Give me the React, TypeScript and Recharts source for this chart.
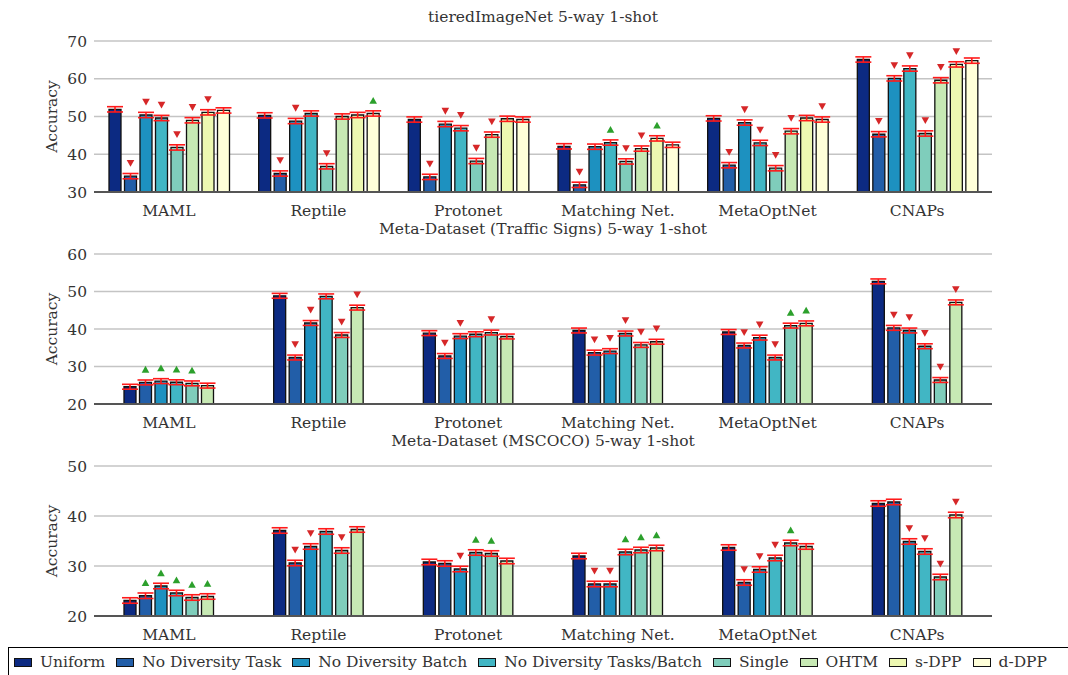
import React from 'react';
import { BarChart, Bar, XAxis, YAxis, CartesianGrid, ErrorBar, LabelList } from 'recharts';

const categories = ['MAML', 'Reptile', 'Protonet', 'Matching Net.', 'MetaOptNet', 'CNAPs'];
const seriesNames = ['Uniform', 'No Diversity Task', 'No Diversity Batch', 'No Diversity Tasks/Batch', 'Single', 'OHTM', 's-DPP', 'd-DPP'];
const seriesColors = ['#0c2a82', '#225ea8', '#1d91c0', '#41b6c4', '#7fcdbb', '#c7e9b4', '#edf8b1', '#ffffd9'];

// Panel 1: tieredImageNet 5-way 1-shot
const tiered_uniform = [51.9, 50.3, 49.2, 42.1, 49.5, 65.1];
const tiered_noDivTask = [34.2, 34.9, 34.0, 31.9, 37.1, 45.3];
const tiered_noDivBatch = [50.4, 48.8, 48.0, 42.0, 48.4, 60.1];
const tiered_noDivTaskBatch = [49.6, 50.8, 46.9, 43.1, 43.0, 62.7];
const tiered_single = [41.8, 36.8, 38.2, 38.1, 36.3, 45.5];
const tiered_ohtm = [49.0, 50.0, 45.2, 41.5, 46.1, 59.6];
const tiered_sdpp = [51.1, 50.4, 49.4, 44.2, 49.6, 63.8];
const tiered_ddpp = [51.6, 50.8, 49.2, 42.5, 49.2, 64.8];
const tiered_markers = [
  ['', '', '', '', '', ''],
  ['d', 'd', 'd', 'd', 'd', 'd'],
  ['d', 'd', 'd', '', 'd', 'd'],
  ['d', '', 'd', 'u', 'd', 'd'],
  ['d', 'd', 'd', 'd', 'd', 'd'],
  ['d', '', 'd', 'd', 'd', 'd'],
  ['d', '', '', 'u', '', 'd'],
  ['', 'u', '', '', 'd', ''],
];
const tiered_err = 0.7;

// Panel 2: Meta-Dataset (Traffic Signs)
const traffic_uniform = [24.6, 48.85, 38.9, 39.6, 39.2, 52.7];
const traffic_noDivTask = [25.75, 32.4, 32.8, 33.7, 35.6, 40.3];
const traffic_noDivBatch = [26.1, 41.6, 38.1, 34.1, 37.7, 39.6];
const traffic_noDivTaskBatch = [25.8, 48.7, 38.6, 38.8, 32.4, 35.4];
const traffic_single = [25.5, 38.4, 39.05, 35.75, 40.9, 26.4];
const traffic_ohtm = [24.9, 45.7, 38.0, 36.6, 41.5, 47.1];
const traffic_markers = [
  ['', '', '', '', '', ''],
  ['u', 'd', 'd', 'd', 'd', 'd'],
  ['u', 'd', 'd', 'd', 'd', 'd'],
  ['u', '', '', 'd', 'd', 'd'],
  ['u', 'd', 'd', 'd', 'u', 'd'],
  ['', 'd', '', 'd', 'u', 'd'],
];
const traffic_err = 0.65;

// Panel 3: Meta-Dataset (MSCOCO)
const coco_uniform = [23.1, 37.1, 30.8, 32.0, 33.7, 42.5];
const coco_noDivTask = [24.05, 30.6, 30.5, 26.4, 26.7, 42.8];
const coco_noDivBatch = [26.0, 33.9, 29.4, 26.4, 29.3, 34.9];
const coco_noDivTaskBatch = [24.6, 36.9, 32.7, 32.8, 31.6, 32.9];
const coco_single = [23.7, 33.1, 32.5, 33.2, 34.6, 27.8];
const coco_ohtm = [23.9, 37.3, 31.0, 33.6, 33.9, 40.2];
const coco_markers = [
  ['', '', '', '', '', ''],
  ['u', 'd', '', 'd', 'd', ''],
  ['u', 'd', 'd', 'd', 'd', 'd'],
  ['u', '', 'u', 'u', 'd', 'd'],
  ['u', 'd', 'u', 'u', 'u', 'd'],
  ['u', '', '', 'u', '', 'd'],
];
const coco_err = 0.55;

const tieredTicks = [30, 40, 50, 60, 70];
const trafficTicks = [20, 30, 40, 50, 60];
const cocoTicks = [20, 30, 40, 50];

const FONT = '"DejaVu Serif", serif';

function buildRows(values: number[][], markers: string[][], err: number) {
  return categories.map((c, i) => {
    const row: any = { name: c };
    values.forEach((v, s) => {
      row['s' + s] = v[i];
      row['s' + s + '_e'] = err;
      row['s' + s + '_m'] = markers[s][i];
    });
    return row;
  });
}

const Marker = (p: any) => {
  const vb = p.viewBox || {};
  const x = p.x ?? vb.x;
  const y = p.y ?? vb.y;
  const w = p.width ?? vb.width;
  const v = p.value;
  if (!v || x == null) return <g />;
  const cx = x + w / 2;
  const cy = y - 13;
  if (v === 'd') {
    return <polygon points={`${cx - 3.8},${cy - 3.2} ${cx + 3.8},${cy - 3.2} ${cx},${cy + 3.6}`} fill="#d62728" />;
  }
  return <polygon points={`${cx - 3.8},${cy + 3.2} ${cx + 3.8},${cy + 3.2} ${cx},${cy - 3.6}`} fill="#2ca02c" />;
};

type PanelProps = {
  top: number;
  marginTop: number;
  title: string;
  values: number[][];
  markers: string[][];
  err: number;
  domain: [number, number];
  ticks: number[];
};

const Panel = ({ top, marginTop, title, values, markers, err, domain, ticks }: PanelProps) => {
  const rows = buildRows(values, markers, err);
  return (
    <div style={{ position: 'absolute', left: 0, top, width: 1068, height: 225 }}>
      <BarChart
        width={1068}
        height={225}
        data={rows}
        margin={{ top: marginTop, right: 76, left: 0, bottom: 0 }}
        barSize={12}
        barGap={3.5}
      >
        <CartesianGrid vertical={false} stroke="#c4c4c4" strokeWidth={1.3} />
        <XAxis
          dataKey="name"
          height={33}
          tickSize={0}
          tickLine={false}
          tickMargin={13}
          axisLine={{ stroke: '#555', strokeWidth: 2 }}
          tick={{ fill: '#333', fontSize: 15.5, fontFamily: FONT }}
          interval={0}
        />
        <YAxis
          width={94}
          domain={domain}
          ticks={ticks}
          allowDataOverflow
          tickSize={0}
          tickLine={false}
          axisLine={false}
          tickMargin={7}
          tick={{ fill: '#333', fontSize: 15.5, fontFamily: FONT }}
          label={{ value: 'Accuracy', angle: -90, position: 'center', dx: 4, style: { fill: '#333', fontSize: 15.5, fontFamily: FONT } }}
        />
        {values.map((_, s) => (
          <Bar
            key={s}
            dataKey={'s' + s}
            fill={seriesColors[s]}
            stroke="#111"
            strokeWidth={1.3}
            isAnimationActive={false}
          >
            <ErrorBar dataKey={'s' + s + '_e'} width={8} stroke="#ff1a1a" strokeWidth={1.6} direction="y" />
            <LabelList dataKey={'s' + s + '_m'} content={Marker} />
          </Bar>
        ))}
      </BarChart>
      <div
        style={{
          position: 'absolute',
          left: 94,
          width: 898,
          top: 8,
          textAlign: 'center',
          fontFamily: FONT,
          fontSize: 15.5,
          lineHeight: '18px',
          color: '#333',
        }}
      >
        {title}
      </div>
    </div>
  );
};

const Legend = () => (
  <div
    style={{
      position: 'absolute',
      left: 8,
      top: 647,
      width: 1075,
      height: 30,
      border: '1px solid #000',
      boxSizing: 'border-box',
      display: 'flex',
      alignItems: 'center',
      paddingLeft: 5,
      fontFamily: FONT,
      fontSize: 15.5,
      color: '#333',
      background: '#fff',
      whiteSpace: 'nowrap',
    }}
  >
    {seriesNames.map((n, i) => (
      <div key={n} style={{ display: 'flex', alignItems: 'center', marginRight: 11 }}>
        <div
          style={{
            width: 16,
            height: 7,
            background: seriesColors[i],
            border: '1px solid #111',
            marginRight: 8,
          }}
        />
        <span>{n}</span>
      </div>
    ))}
  </div>
);

export default function App() {
  return (
    <div style={{ position: 'absolute', left: 0, top: 0, width: 1068, height: 675, overflow: 'hidden', background: '#fff' }}>
      <Panel
        top={0}
        marginTop={41}
        title="tieredImageNet 5-way 1-shot"
        values={[tiered_uniform, tiered_noDivTask, tiered_noDivBatch, tiered_noDivTaskBatch, tiered_single, tiered_ohtm, tiered_sdpp, tiered_ddpp]}
        markers={tiered_markers}
        err={tiered_err}
        domain={[30, 70]}
        ticks={tieredTicks}
      />
      <Panel
        top={212}
        marginTop={42}
        title="Meta-Dataset (Traffic Signs) 5-way 1-shot"
        values={[traffic_uniform, traffic_noDivTask, traffic_noDivBatch, traffic_noDivTaskBatch, traffic_single, traffic_ohtm]}
        markers={traffic_markers}
        err={traffic_err}
        domain={[20, 60]}
        ticks={trafficTicks}
      />
      <Panel
        top={424}
        marginTop={42}
        title="Meta-Dataset (MSCOCO) 5-way 1-shot"
        values={[coco_uniform, coco_noDivTask, coco_noDivBatch, coco_noDivTaskBatch, coco_single, coco_ohtm]}
        markers={coco_markers}
        err={coco_err}
        domain={[20, 50]}
        ticks={cocoTicks}
      />
      <Legend />
    </div>
  );
}
